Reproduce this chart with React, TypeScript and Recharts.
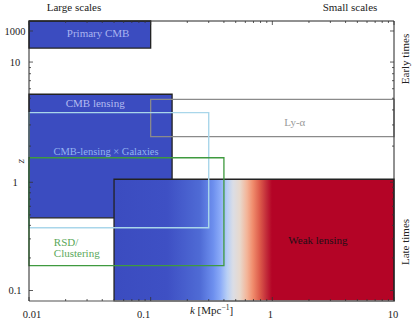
import React from 'react';
import { ComposedChart, XAxis, YAxis, ReferenceArea, ReferenceDot, Label, Scatter } from 'recharts';

const FONT = '"Liberation Serif", "DejaVu Serif", serif';

// ---------- axis ranges & ticks ----------
const kRange = [0.01, 10];
const zRange = [0.08, 4400];
const kMajorTicks = [0.01, 0.1, 1, 10];
const kMajorLabels = ['0.01', '0.1', '1', '10'];
const kMinorTicks = [0.02, 0.03, 0.04, 0.05, 0.06, 0.07, 0.08, 0.09, 0.2, 0.3, 0.4, 0.5, 0.6, 0.7, 0.8, 0.9, 2, 3, 4, 5, 6, 7, 8, 9];
const zMajorTicks = [0.1, 1, 10, 1000];
const zMajorLabels = ['0.1', '1', '10', '1000'];
const zMinorTicks = [0.2, 0.3, 0.4, 0.5, 0.6, 0.7, 0.8, 0.9, 2, 3, 4, 5, 6, 7, 8, 9];

// ---------- survey regions ----------
const surveyNames = ['CMB lensing', 'Primary CMB', 'Weak lensing', 'Ly-α', 'CMB-lensing × Galaxies', 'RSD/Clustering'];
const kLow = [0.01, 0.01, 0.05, 0.1, 0.01, 0.01];
const kHigh = [0.15, 0.1, 10, 10, 0.3, 0.4];
const zLow = [0.47, 80, 0.08, 2.4, 0.38, 0.17];
const zHigh = [5.4, 4400, 1.06, 4.9, 3.8, 1.6];

// ---------- annotation anchors (k, z) ----------
const noteText = [['Primary CMB'], ['CMB lensing'], ['CMB-lensing × Galaxies'], ['Ly-α'], ['RSD/', 'Clustering'], ['Weak lensing']];
const noteK = [0.037, 0.035, 0.043, 1.53, 0.016, 2.37];
const noteZ = [740, 4.55, 1.81, 3.16, 0.247, 0.29];

// styles (not data)
const kLabelShift = [3, -7, -2, -1];
const areaStyles = [
  { fill: '#3b4cc0', stroke: '#222', strokeWidth: 1.3 },
  { fill: '#3b4cc0', stroke: '#222', strokeWidth: 1.3 },
  { fill: 'url(#wlGrad)', stroke: '#222', strokeWidth: 1.3 },
  { fill: 'none', stroke: '#8a8a8a', strokeWidth: 1.3 },
  { fill: 'none', stroke: '#a9d6ea', strokeWidth: 1.4 },
  { fill: 'none', stroke: '#3f9a3f', strokeWidth: 1.3 },
];
const noteStyles = [
  { fill: '#aab4f0', anchor: 'middle', size: 11 },
  { fill: '#b3bbf0', anchor: 'middle', size: 11 },
  { fill: '#93b3f0', anchor: 'middle', size: 10.5 },
  { fill: '#9a9a9a', anchor: 'middle', size: 11 },
  { fill: '#5aa85a', anchor: 'start', size: 11 },
  { fill: '#1e1016', anchor: 'middle', size: 11 },
];

// log scale for k (drawn on a linear axis in log10 units)
const kToU = (k: number) => Math.log10(k);
// broken log scale for z: log below 1, stretched log 1..10, compressed log above 10
const UPPER = 15.5 / 108;
const zToU = (z: number) => {
  const l = Math.log10(z);
  if (l <= 0) return l;
  if (l <= 1) return (l * 10) / 9;
  return 10 / 9 + (l - 1) * UPPER;
};

const xDomain = [kToU(kRange[0]), kToU(kRange[1])];
const yDomain = [zToU(zRange[0]), zToU(zRange[1])];
const kMajorU = kMajorTicks.map(kToU);
const zMajorU = zMajorTicks.map(zToU);
const xTicks = [...kMajorU, ...kMinorTicks.map(kToU)];
const yTicks = [...zMajorU, ...zMinorTicks.map(zToU)];

// table for the library (corner points of each region)
const rows = surveyNames.map((name, i) => ({ name, ku: kToU(kLow[i]), zu: zToU(zLow[i]) }));

const near = (a: number, b: number) => Math.abs(a - b) < 1e-7;
const TICK = '#333';
const X_MARGIN = 13;
const Y_MARGIN = 14;

const BottomTick = (props: any) => {
  const { x, y, payload } = props;
  const idx = kMajorU.findIndex((m) => near(m, payload.value));
  const y0 = y - X_MARGIN;
  return (
    <g>
      <line x1={x} x2={x} y1={y0} y2={y0 - (idx >= 0 ? 4 : 2)} stroke={TICK} strokeWidth={0.8} />
      {idx >= 0 && (
        <text x={x + kLabelShift[idx]} y={y} dy="0.35em" textAnchor="middle" fontFamily={FONT} fontSize={10.5} fill="#222">
          {kMajorLabels[idx]}
        </text>
      )}
    </g>
  );
};

const TopTick = (props: any) => {
  const { x, y, payload } = props;
  const major = kMajorU.some((m) => near(m, payload.value));
  return <line x1={x} x2={x} y1={y} y2={y + (major ? 4 : 2)} stroke={TICK} strokeWidth={0.8} />;
};

const LeftTick = (props: any) => {
  const { x, y, payload } = props;
  const idx = zMajorU.findIndex((m) => near(m, payload.value));
  const x0 = x + Y_MARGIN;
  return (
    <g>
      <line x1={x0} x2={x0 + (idx >= 0 ? 4 : 2)} y1={y} y2={y} stroke={TICK} strokeWidth={0.8} />
      {idx >= 0 && (
        <text x={x} y={y} dy="0.35em" textAnchor="middle" fontFamily={FONT} fontSize={10.5} fill="#222">
          {zMajorLabels[idx]}
        </text>
      )}
    </g>
  );
};

const RightTick = (props: any) => {
  const { x, y, payload } = props;
  const major = zMajorU.some((m) => near(m, payload.value));
  return <line x1={x} x2={x - (major ? 4 : 2)} y1={y} y2={y} stroke={TICK} strokeWidth={0.8} />;
};

const XLabel = (props: any) => {
  const vb = props.viewBox || {};
  const cx = vb.x + vb.width / 2;
  const cy = vb.y + 9;
  return (
    <text x={cx} y={cy} dy="0.35em" textAnchor="middle" fontFamily={FONT} fontSize={11} fill="#222">
      <tspan fontStyle="italic">k</tspan>
      <tspan> [Mpc</tspan>
      <tspan dy={-4} fontSize={7.5}>−1</tspan>
      <tspan dy={4}>]</tspan>
    </text>
  );
};

const YLabel = (props: any) => {
  const vb = props.viewBox || {};
  const cx = vb.x + vb.width - 8;
  const cy = vb.y + vb.height / 2;
  return (
    <text x={cx} y={cy} dy="0.3em" textAnchor="middle" fontFamily={FONT} fontSize={11} fontStyle="italic" fill="#222" transform={`rotate(-90 ${cx} ${cy})`}>
      z
    </text>
  );
};

const makeNote = (i: number) => (p: any) => {
  const st = noteStyles[i];
  const lines = noteText[i];
  const lh = 11;
  const start = -((lines.length - 1) * lh) / 2;
  return (
    <text x={p.cx} y={p.cy} textAnchor={st.anchor} fontFamily={FONT} fontSize={st.size} fill={st.fill}>
      {lines.map((t, j) => (
        <tspan key={j} x={p.cx} y={p.cy + start + j * lh} dy="0.35em">
          {t}
        </tspan>
      ))}
    </text>
  );
};

const overlay: React.CSSProperties = {
  position: 'absolute',
  fontFamily: FONT,
  fontSize: 11,
  color: '#222',
  whiteSpace: 'nowrap',
  lineHeight: '12px',
};

export default function App() {
  return (
    <div style={{ position: 'absolute', left: 0, top: 0, width: 415, height: 323, background: '#fff' }}>
      <ComposedChart width={415} height={323} data={rows} margin={{ top: 20, right: 20, bottom: 0, left: 0 }}>
        <defs>
          <linearGradient id="wlGrad" x1="0" y1="0" x2="1" y2="0">
            <stop offset="0" stopColor="#3b4cc0" />
            <stop offset="0.19" stopColor="#3e50c4" />
            <stop offset="0.307" stopColor="#4f6bd5" />
            <stop offset="0.354" stopColor="#6d8fee" />
            <stop offset="0.379" stopColor="#8aaaf8" />
            <stop offset="0.404" stopColor="#b8cff5" />
            <stop offset="0.425" stopColor="#dadde6" />
            <stop offset="0.45" stopColor="#e8d8cc" />
            <stop offset="0.475" stopColor="#f3b498" />
            <stop offset="0.496" stopColor="#f08c6c" />
            <stop offset="0.521" stopColor="#dc5a4a" />
            <stop offset="0.546" stopColor="#c02838" />
            <stop offset="0.564" stopColor="#b40426" />
            <stop offset="1" stopColor="#b40426" />
          </linearGradient>
        </defs>
        <XAxis
          xAxisId="b"
          dataKey="ku"
          type="number"
          domain={xDomain}
          allowDataOverflow
          ticks={xTicks}
          interval={0}
          tickSize={0}
          tickMargin={X_MARGIN}
          tickLine={false}
          tick={<BottomTick />}
          axisLine={{ stroke: '#8a8a8a', strokeWidth: 1.3 }}
          height={22}
        >
          <Label content={<XLabel />} />
        </XAxis>
        <XAxis
          xAxisId="t"
          dataKey="ku"
          orientation="top"
          type="number"
          domain={xDomain}
          allowDataOverflow
          ticks={xTicks}
          interval={0}
          tickSize={0}
          tickMargin={0}
          tickLine={false}
          tick={<TopTick />}
          axisLine={{ stroke: '#222', strokeWidth: 1 }}
          height={1}
        />
        <YAxis
          yAxisId="l"
          dataKey="zu"
          type="number"
          domain={yDomain}
          allowDataOverflow
          ticks={yTicks}
          interval={0}
          tickSize={0}
          tickMargin={Y_MARGIN}
          tickLine={false}
          tick={<LeftTick />}
          axisLine={{ stroke: '#222', strokeWidth: 1 }}
          width={29}
        >
          <Label content={<YLabel />} />
        </YAxis>
        <YAxis
          yAxisId="r"
          dataKey="zu"
          orientation="right"
          type="number"
          domain={yDomain}
          allowDataOverflow
          ticks={yTicks}
          interval={0}
          tickSize={0}
          tickMargin={0}
          tickLine={false}
          tick={<RightTick />}
          axisLine={{ stroke: '#222', strokeWidth: 1 }}
          width={1}
        />
        <Scatter xAxisId="b" yAxisId="l" dataKey="zu" data={rows} shape={() => <g />} isAnimationActive={false} legendType="none" />
        <Scatter xAxisId="t" yAxisId="r" dataKey="zu" data={rows} shape={() => <g />} isAnimationActive={false} legendType="none" />
        {surveyNames.map((name, i) => (
          <ReferenceArea
            key={name}
            xAxisId="b"
            yAxisId="l"
            x1={kToU(kLow[i])}
            x2={kToU(kHigh[i])}
            y1={zToU(zLow[i])}
            y2={zToU(zHigh[i])}
            fill={areaStyles[i].fill}
            fillOpacity={1}
            stroke={areaStyles[i].stroke}
            strokeWidth={areaStyles[i].strokeWidth}
            ifOverflow="visible"
          />
        ))}
        {noteText.map((t, i) => (
          <ReferenceDot
            key={t.join('')}
            xAxisId="b"
            yAxisId="l"
            x={kToU(noteK[i])}
            y={zToU(noteZ[i])}
            r={0}
            ifOverflow="visible"
            shape={makeNote(i)}
          />
        ))}
      </ComposedChart>
      <div style={{ ...overlay, left: 74, top: 7, transform: 'translate(-50%, -50%)' }}>Large scales</div>
      <div style={{ ...overlay, left: 350, top: 7, transform: 'translate(-50%, -50%)' }}>Small scales</div>
      <div style={{ ...overlay, left: 405, top: 59, transform: 'translate(-50%, -50%) rotate(-90deg)' }}>Early times</div>
      <div style={{ ...overlay, left: 405, top: 242, transform: 'translate(-50%, -50%) rotate(-90deg)' }}>Late times</div>
    </div>
  );
}
